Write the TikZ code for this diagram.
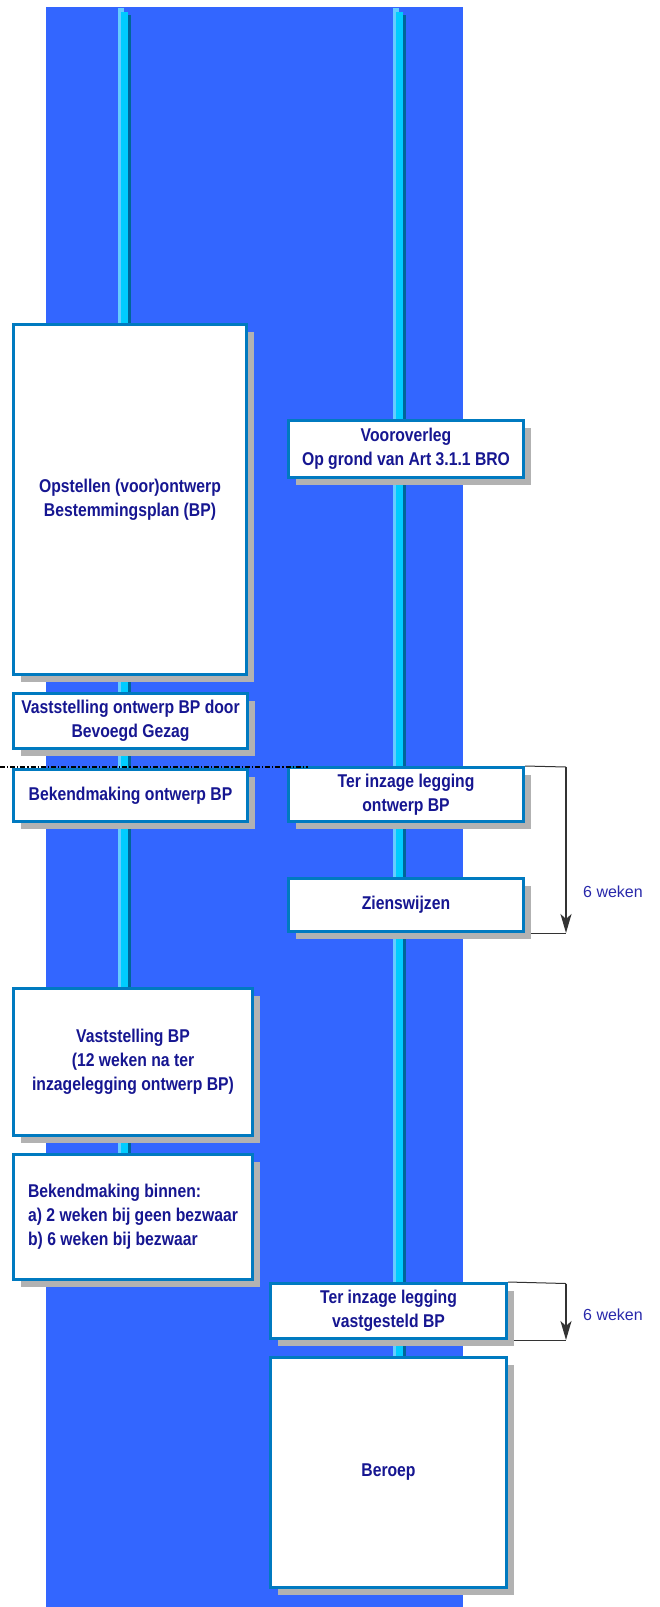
\documentclass[tikz,border=0pt]{standalone}
\usepackage{fontspec}
\setmainfont{Liberation Sans}[FakeStretch=0.85]
\newfontfamily\wekenfont{Liberation Sans}
\usepackage{tikz}
\usetikzlibrary{shadows,backgrounds,arrows.meta}
\tikzset{>={Stealth[length=19pt,width=11pt,inset=5pt]}}
\usepackage{xcolor}
\definecolor{bgcol}{RGB}{51,102,255}
\definecolor{barlight}{RGB}{102,204,255}
\definecolor{barcyan}{RGB}{0,204,255}
\definecolor{bardark}{RGB}{0,102,153}
\definecolor{boxcol}{RGB}{0,122,192}
\definecolor{shadowcol}{RGB}{178,178,178}
\definecolor{txtcol}{RGB}{22,22,145}
\definecolor{wekencol}{RGB}{40,40,170}
\colorlet{bracketcol}{black!80}
\tikzstyle{box}=[draw=boxcol,line width=3pt,fill=white,text=txtcol,align=center,
                 inner sep=0pt,font=\fontsize{18.5}{24}\selectfont\bfseries,
                 drop shadow={shadow xshift=7pt,shadow yshift=-7pt,fill=shadowcol,opacity=1}]
\tikzstyle{bracketline}=[bracketcol,line width=1pt]
\tikzstyle{bracketarrow}=[-{Stealth[length=19pt,width=11pt,inset=5pt]},bracketcol,line width=2pt]
\tikzstyle{weken}=[text=wekencol,inner sep=0pt,font=\wekenfont\fontsize{16}{19}\selectfont]
\tikzset{
  boxsize/.style 2 args={minimum width=#1,minimum height=#2}}

\begin{document}
\begin{tikzpicture}[x=1pt,y=-1pt]
  \useasboundingbox (0,0) rectangle (659,1607);

  % BACKGROUND
  \fill[bgcol] (46,7) rectangle (463,1607);

  % TIME BARS
  \foreach \x/\len in {118/1200,393/1400}{
    \fill[barlight] (\x,8) rectangle (\x+6,\len);
    \fill[barcyan] (\x+3,12) rectangle (\x+10,\len);
    \fill[bardark] (\x+10,15) rectangle (\x+13,\len);
  }

  % LEFT COLUMN
  \node[box,boxsize={233}{350}] (opstellen) at (130,499.5)
    {Opstellen (voor)ontwerp\\Bestemmingsplan (BP)};
  \node[box,boxsize={234}{55}] (vastontw) at (130.5,721)
    {Vaststelling ontwerp BP door\\Bevoegd Gezag};
  \node[box,boxsize={234}{52}] (bekontw) at (130.5,795.5)
    {Bekendmaking ontwerp BP};
  \node[box,boxsize={239}{147}] (vastbp) at (133,1062)
    {Vaststelling BP\\(12 weken na ter\\inzagelegging ontwerp BP)};
  \node[box,boxsize={239}{125},align=left] (bekbinnen) at (133,1217)
    {Bekendmaking binnen:\\a) 2 weken bij geen bezwaar\\b) 6 weken bij bezwaar};

  % RIGHT COLUMN
  \node[box,boxsize={235}{57}] (vooroverleg) at (406,449)
    {Vooroverleg\\Op grond van Art 3.1.1 BRO};
  \node[box,boxsize={235}{54}] (inzageontw) at (406,794.5)
    {Ter inzage legging\\ontwerp BP};
  \node[box,boxsize={235}{53}] (zienswijzen) at (406,905)
    {Zienswijzen};
  \node[box,boxsize={236}{55}] (inzagevast) at (388.5,1311)
    {Ter inzage legging\\vastgesteld BP};
  \node[box,boxsize={236}{230}] (beroep) at (388.5,1472.5)
    {Beroep};

  % START OF TERM
  \coordinate (termstart) at (0,767);
  \coordinate (termend) at (308,767);
  \draw[line width=1.2pt,dash pattern=on 5pt off 2pt on 1.2pt off 2pt]
    (termstart) -- (termend);

  % BRACKETS
  \coordinate (b1top) at (566,767);
  \coordinate (b2top) at (566,1283.5);
  \begin{scope}[on background layer]
    \draw[bracketline] (inzageontw.north east) -- (b1top);
    \draw[bracketline] (zienswijzen.south east) -- (zienswijzen.south east -| b1top);
    \draw[bracketarrow] (b1top) -- (zienswijzen.south east -| b1top);
    \draw[bracketline] (inzagevast.north east) -- (b2top);
    \draw[bracketline] (inzagevast.south east) -- (inzagevast.south east -| b2top);
    \draw[bracketarrow] (b2top) -- (inzagevast.south east -| b2top);
  \end{scope}
  \node[weken] (weken1) at (613,892) {6 weken};
  \node[weken] (weken2) at (613,1315) {6 weken};

\end{tikzpicture}
\end{document}
